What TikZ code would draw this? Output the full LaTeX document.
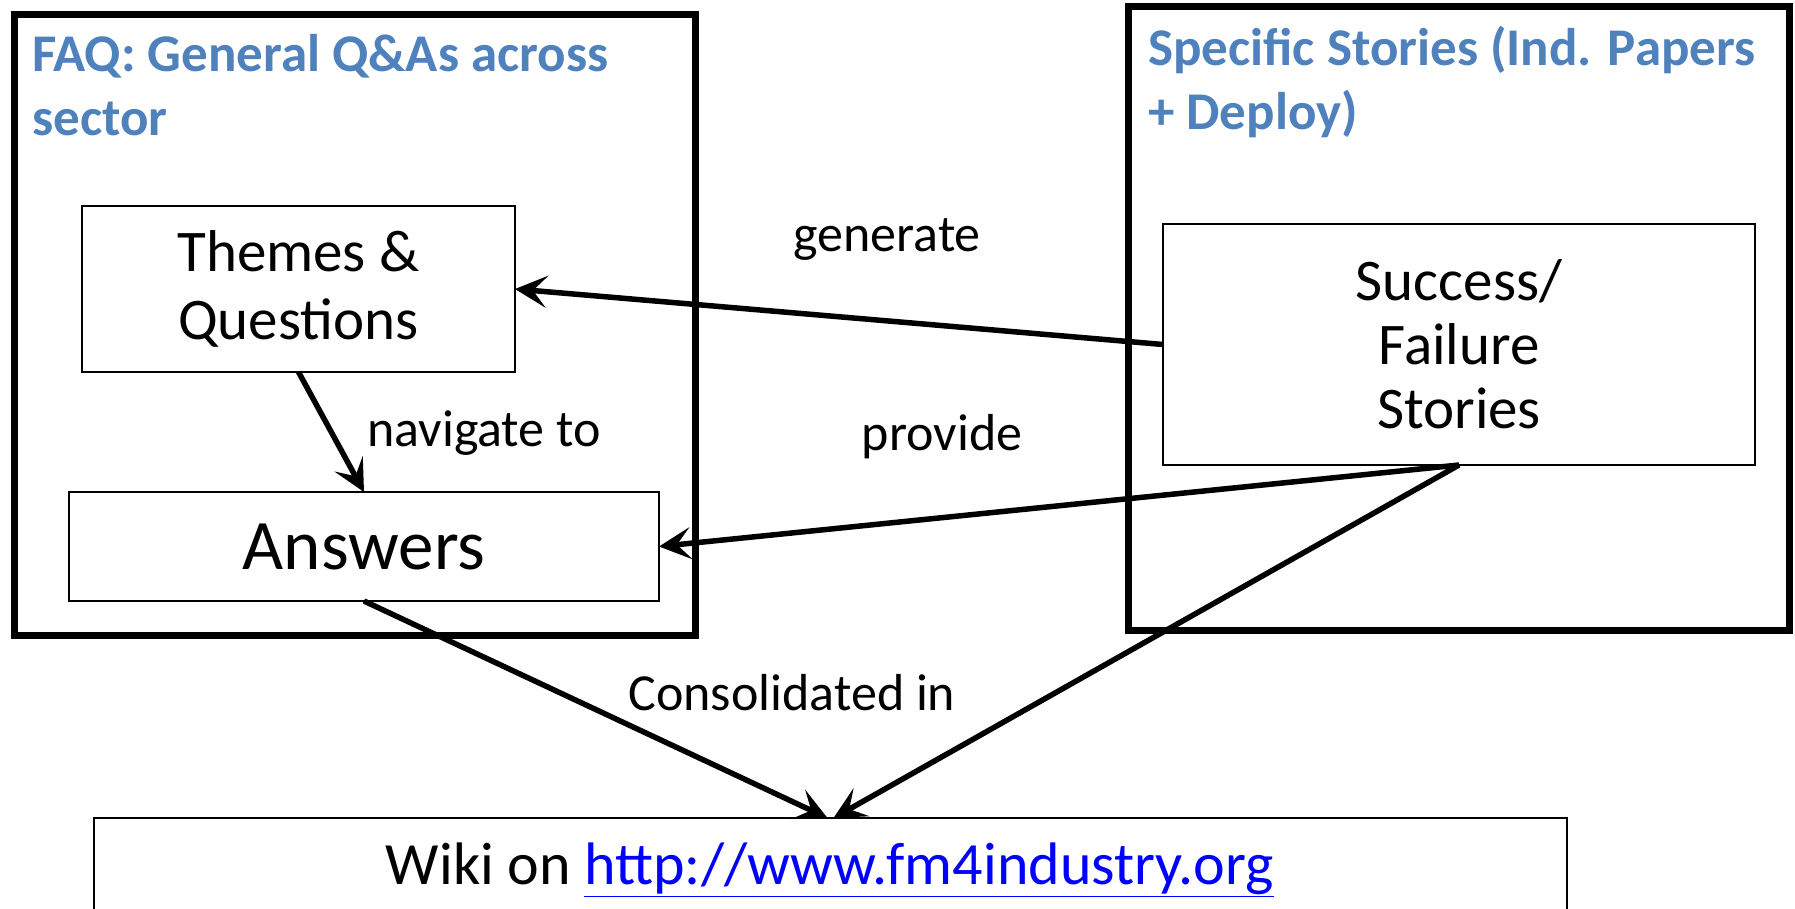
\documentclass[tikz,border=0pt]{standalone}
\usepackage{fontspec}
\setmainfont{Carlito}
\usetikzlibrary{arrows.meta}
\definecolor{titleblue}{HTML}{4F81BD}
\definecolor{linkblue}{HTML}{0000FF}
\begin{document}
\begin{tikzpicture}[x=1pt,y=-1pt,
  outerbox/.style={draw, line width=7pt, rectangle, inner sep=0pt, outer sep=0pt},
  innerbox/.style={draw, line width=2pt, rectangle, inner sep=0pt, outer sep=0pt, align=center},
  titletext/.style={text=titleblue, font=\bfseries\fontsize{53}{64}\selectfont, align=left, anchor=north west, inner sep=0pt},
  lbl/.style={font=\fontsize{52}{62}\selectfont, inner sep=0pt},
  conn/.style={line width=5.5pt, -{Stealth[length=32pt, width=32pt, inset=14pt]}}
]
\useasboundingbox (0,0) rectangle (1795,908);
% outer boxes
\node[outerbox, minimum width=681pt, minimum height=621pt] (faq) at (354.5,324.5) {};
\node[outerbox, minimum width=661pt, minimum height=624pt] (spec) at (1458.5,318) {};
\node[titletext] (faqtitle) at (32,34) {FAQ: General Q\&As across\\sector};
\node[titletext] (spectitle) at (1148,26) {Specific Stories (Ind. Papers\\+ Deploy)};
% inner boxes
\node[innerbox, minimum width=433pt, minimum height=166pt, font=\fontsize{59}{68}\selectfont] (themes) at (298.5,289) {Themes \&\\Questions};
\node[innerbox, minimum width=590pt, minimum height=109pt, font=\fontsize{71}{80}\selectfont] (answers) at (364,546.5) {Answers};
\node[innerbox, minimum width=592pt, minimum height=241pt, font=\fontsize{59}{64}\selectfont] (success) at (1459,344.5) {Success/\\Failure\\Stories};
\node[innerbox, minimum width=1473pt, minimum height=140pt, anchor=north, font=\fontsize{60}{70}\selectfont] (wiki) at (830.5,818) {};
\node[font=\fontsize{60}{70}\selectfont, inner sep=0pt] (wikitext) at (830,870) {Wiki on \textcolor{linkblue}{\underline{http://www.fm4industry.org}}};
% connectors
\draw[conn] (success.west) -- (themes.east);
\draw[conn] (themes.south) -- (answers.north);
\draw[conn] (success.south) -- (answers.east);
\draw[conn] (answers.south) -- ([xshift=-3pt]wiki.north);
\draw[conn] (success.south) -- ([xshift=3pt]wiki.north);
% labels
\node[lbl] (lgen) at (887,240) {generate};
\node[lbl] (lnav) at (484,433) {navigate to};
\node[lbl] (lprov) at (942,437) {provide};
\node[lbl] (lcons) at (792,693) {Consolidated in};
\end{tikzpicture}
\end{document}
